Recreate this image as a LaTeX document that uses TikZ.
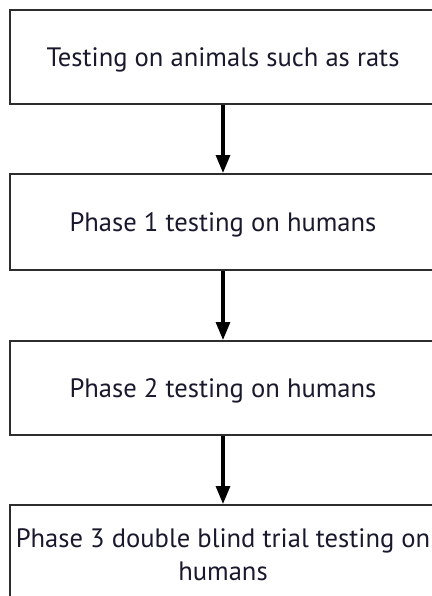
\documentclass[tikz,border=0pt]{standalone}
\usepackage{fontspec}
\setmainfont{PT Sans}
\usetikzlibrary{arrows.meta}

\definecolor{txtcol}{RGB}{25,25,45}
\definecolor{boxcol}{RGB}{45,45,45}

\begin{document}
\begin{tikzpicture}[x=0.5pt,y=-0.5pt,
  stagebox/.style={draw=boxcol,line width=1pt,rectangle,minimum width=213pt,
    text=txtcol,font=\fontsize{13.3}{16.5}\selectfont,align=center,inner sep=0pt,
    text depth=0pt},
  flow/.style={-{Triangle[width=7pt,length=9pt]},line width=1.6pt,black}]

\useasboundingbox (0,0) rectangle (432,596);
\begin{scope}
\clip (0,0) rectangle (432,596);

\node[stagebox,minimum height=47pt] (animals) at (223,57) {Testing on animals such as rats};
\node[stagebox,minimum height=48pt] (phaseone) at (223,222) {Phase 1 testing on humans};
\node[stagebox,minimum height=47pt] (phasetwo) at (223,388) {Phase 2 testing on humans};
\node[stagebox,minimum height=50pt] (phasethree) at (223,555) {Phase 3 double blind trial testing on\\humans};

\draw[flow] (animals) -- (phaseone);
\draw[flow] (phaseone) -- (phasetwo);
\draw[flow] (phasetwo) -- (phasethree);
\end{scope}

\end{tikzpicture}
\end{document}
